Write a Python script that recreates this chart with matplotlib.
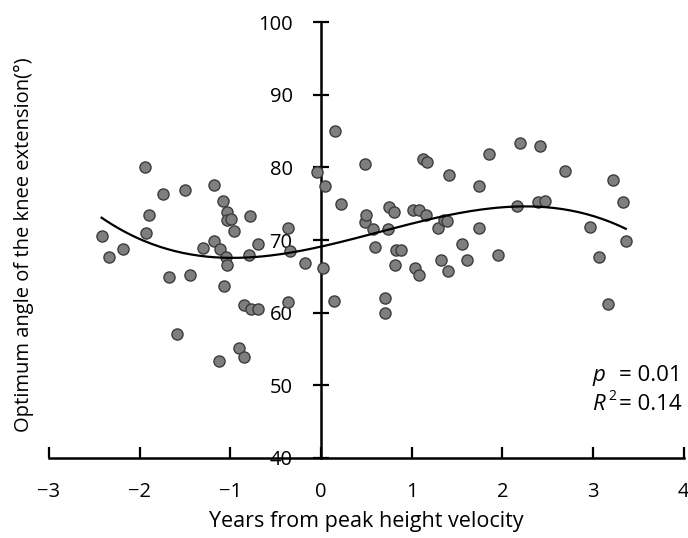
import numpy as np
import matplotlib.pyplot as plt

plt.rcParams['font.family'] = ['Open Sans', 'DejaVu Sans']

# years from PHV, optimum knee angle (deg)
years = [-2.42, -2.34, -2.18, -1.94, -1.93, -1.90, -1.74, -1.68, -1.59, -1.50,
         -1.44, -1.30, -1.18, -1.18, -1.13, -1.11, -1.08, -1.07, -1.05, -1.04,
         -1.04, -1.04, -0.99, -0.96, -0.91, -0.85, -0.85, -0.79, -0.78, -0.77,
         -0.70, -0.70, -0.37, -0.37, -0.34, -0.18, -0.05, 0.02, 0.04, 0.14,
         0.15, 0.22, 0.48, 0.48, 0.49, 0.57, 0.59, 0.71, 0.71, 0.74,
         0.75, 0.80, 0.82, 0.83, 0.88, 1.01, 1.04, 1.08, 1.08, 1.12,
         1.16, 1.17, 1.29, 1.32, 1.36, 1.39, 1.40, 1.41, 1.55, 1.61,
         1.74, 1.74, 1.85, 1.95, 2.16, 2.19, 2.39, 2.41, 2.47, 2.69,
         2.97, 3.06, 3.16, 3.22, 3.33, 3.36]
angle = [70.6, 67.7, 68.7, 80.0, 71.0, 73.5, 76.3, 64.9, 57.0, 76.9,
         65.2, 68.9, 77.6, 69.8, 53.4, 68.7, 75.4, 63.7, 67.6, 73.9,
         72.8, 66.6, 72.9, 71.2, 55.2, 61.0, 53.9, 67.9, 73.3, 60.5,
         60.5, 69.4, 71.7, 61.5, 68.5, 66.8, 79.3, 66.2, 77.4, 61.6,
         85.0, 75.0, 80.4, 72.5, 73.5, 71.5, 69.1, 62.0, 60.0, 71.5,
         74.6, 73.9, 66.6, 68.6, 68.6, 74.2, 66.2, 74.1, 65.2, 81.2,
         73.5, 80.8, 71.6, 67.3, 72.7, 72.6, 65.8, 79.0, 69.5, 67.3,
         77.5, 71.7, 81.9, 68.0, 74.7, 83.4, 75.3, 83.0, 75.4, 79.5,
         71.8, 67.7, 61.2, 78.3, 75.3, 69.9]

x_ticks = [-3, -2, -1, 0, 1, 2, 3, 4]
x_labels = ['\u22123', '\u22122', '\u22121', '0', '1', '2', '3', '4']
y_ticks = [40, 50, 60, 70, 80, 90, 100]

fig = plt.figure(figsize=(6.88, 5.38), dpi=100)
ax = fig.add_axes([0.0712, 0.1487, 0.9228, 0.8103])

ax.scatter(years, angle, s=64, color='#7f7f7f', edgecolor='#3c3c3c',
           linewidth=1.0, zorder=3)

# cubic trend line
coef = np.polyfit(years, angle, 3)
xs = np.linspace(min(years), max(years), 200)
ax.plot(xs, np.polyval(coef, xs), color='black', linewidth=1.6, zorder=4)

ax.set_xlim(-3, 4)
ax.set_ylim(40, 100)
ax.spines['top'].set_visible(False)
ax.spines['right'].set_visible(False)
ax.spines['left'].set_position(('data', 0))
ax.spines['bottom'].set_position(('data', 40))
ax.spines['left'].set_linewidth(1.8)
ax.spines['bottom'].set_linewidth(1.8)

ax.set_xticks(x_ticks)
ax.set_xticklabels(x_labels)
ax.set_yticks(y_ticks)
ax.tick_params(axis='x', direction='in', length=8, width=1.6, pad=17, labelsize=14.5)
ax.tick_params(axis='y', direction='inout', length=11, width=1.6, pad=15, labelsize=14.5)

fig.text(366 / 688, 1 - 522 / 538, 'Years from peak height velocity',
         ha='center', va='center', fontsize=15.5)
fig.text(24 / 688, 0.545, 'Optimum angle of the knee extension(\u00b0)',
         rotation=90, ha='center', va='center', fontsize=14.5)

ax.text(2.99, 51.4, 'p', style='italic', fontsize=16, va='center')
ax.text(3.28, 51.4, '= 0.01', fontsize=16, va='center')
ax.text(2.99, 47.3, 'R', style='italic', fontsize=16, va='center')
ax.text(3.17, 48.4, '2', fontsize=10, va='center')
ax.text(3.28, 47.3, '= 0.14', fontsize=16, va='center')

fig.savefig('out.png', dpi=100)
